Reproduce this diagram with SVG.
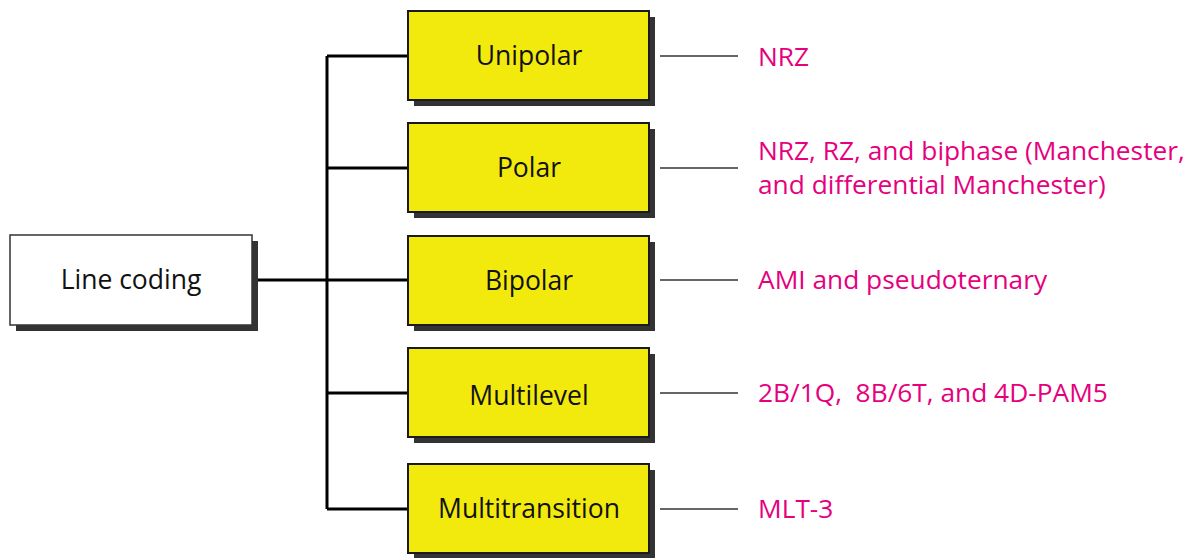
<svg xmlns="http://www.w3.org/2000/svg" width="1195" height="558" viewBox="0 0 1195 558">
<style>
.shadow{fill:#333333}
.box{fill:#F2EA0C;stroke:#1a1a1a;stroke-width:2}
.root{fill:#ffffff;stroke:#333333;stroke-width:1.5}
.lbl{font-family:"Open Sans","Noto Sans",sans-serif;font-size:26.5px;fill:#111111;text-anchor:middle}
.note{font-family:"Open Sans","Noto Sans",sans-serif;font-size:26.3px;fill:#E6007E;white-space:pre}
.trunk{fill:none;stroke:#000;stroke-width:3}
.thin{stroke:#333;stroke-width:1.5}
</style>
<rect width="1195" height="558" fill="#ffffff"/>
<g id="connectors">
<path class="trunk" d="M252 280 H408 M327 56 V509 M327 56 H408 M327 168 H408 M327 393 H408 M327 509 H408"/>
<line class="thin" x1="660" y1="56" x2="738" y2="56"/>
<line class="thin" x1="660" y1="168" x2="738" y2="168"/>
<line class="thin" x1="660" y1="280" x2="738" y2="280"/>
<line class="thin" x1="660" y1="393" x2="738" y2="393"/>
<line class="thin" x1="660" y1="509" x2="738" y2="509"/>
</g>
<g id="line-coding">
<rect class="shadow" x="16" y="241" width="242" height="90"/>
<rect class="root" x="10" y="235" width="242" height="90"/>
<text class="lbl" x="131" y="289">Line coding</text>
</g>
<g id="unipolar">
<rect class="shadow" x="414" y="17" width="241" height="89"/>
<rect class="box" x="408" y="11" width="241" height="89"/>
<text class="lbl" x="529" y="65">Unipolar</text>
</g>
<g id="polar">
<rect class="shadow" x="414" y="129" width="241" height="89"/>
<rect class="box" x="408" y="123" width="241" height="89"/>
<text class="lbl" x="529" y="177">Polar</text>
</g>
<g id="bipolar">
<rect class="shadow" x="414" y="242" width="241" height="89"/>
<rect class="box" x="408" y="236" width="241" height="89"/>
<text class="lbl" x="529" y="290">Bipolar</text>
</g>
<g id="multilevel">
<rect class="shadow" x="414" y="354" width="241" height="89"/>
<rect class="box" x="408" y="348" width="241" height="89"/>
<text class="lbl" x="529" y="405">Multilevel</text>
</g>
<g id="multitransition">
<rect class="shadow" x="414" y="470" width="241" height="89"/>
<rect class="box" x="408" y="464" width="241" height="89"/>
<text class="lbl" x="529" y="518">Multitransition</text>
</g>
<g id="notes">
<text class="note" x="758" y="66">NRZ</text>
<text class="note" x="758" y="160">NRZ, RZ, and biphase (Manchester,</text>
<text class="note" x="758" y="194">and differential Manchester)</text>
<text class="note" x="758" y="289">AMI and pseudoternary</text>
<text class="note" x="758" y="402" xml:space="preserve">2B/1Q,  8B/6T, and 4D-PAM5</text>
<text class="note" x="758" y="518">MLT-3</text>
</g>
</svg>
